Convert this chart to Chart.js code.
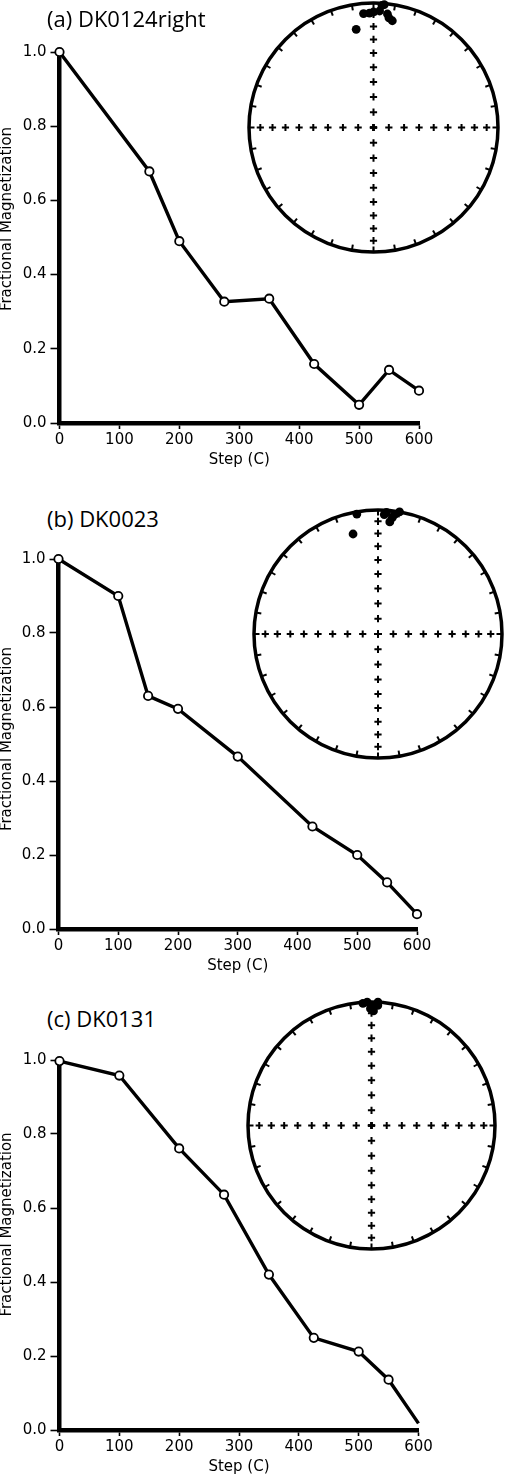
<!DOCTYPE html>
<html>
<head>
<meta charset="utf-8">
<script src="https://cdn.jsdelivr.net/npm/chart.js@4"></script>
<style>
  html, body { margin: 0; padding: 0; background: #fff; }
  #page { position: relative; width: 505px; height: 1474px; overflow: hidden; }
  canvas { position: absolute; }
  .ptitle { position: absolute; left: 47px; font: 22px "Open Sans", sans-serif; line-height: 1; color: #000; white-space: nowrap; }
</style>
</head>
<body>
<div id="page"></div>
<script>
// ===== DATA =====
const titles = ['(a) DK0124right', '(b) DK0023', '(c) DK0131'];

const stepsA = [0, 150, 200, 275, 350, 425, 500, 550, 600];
const magA   = [1.0, 0.678, 0.49, 0.327, 0.335, 0.159, 0.049, 0.143, 0.087];
const stepsB = [0, 100, 150, 200, 300, 425, 500, 550, 600];
const magB   = [1.0, 0.90, 0.63, 0.595, 0.466, 0.277, 0.20, 0.126, 0.04];
const stepsC = [0, 100, 200, 275, 350, 425, 500, 550, 600];
const magC   = [0.997, 0.958, 0.761, 0.636, 0.42, 0.249, 0.212, 0.136, 0.018];

// directions (declination / inclination, degrees) plotted on the equal-area nets
const decA = [355, 358, 0, 3, 4, 5, 7, 10, 8, 350];
const incA = [9, 9, 8, 7, 2, 1, 9, 14, 12, 21];
const decB = [350, 346, 6, 3, 8, 10, 4, 7];
const incB = [2, 18, 10, 4, 3, 0, 2, 6];
const decC = [358, 0, 3, 1, 359.5, 3, 356];
const incC = [0, 3, 0, 8, 6, 3, 1];

const xTicks = [0, 100, 200, 300, 400, 500, 600];
const yTicks = [0.0, 0.2, 0.4, 0.6, 0.8, 1.0];
const netIncGrid = [10, 20, 30, 40, 50, 60, 70, 80, 90];

// ===== LAYOUT (pixels) =====
const panels = [
  { steps: stepsA, mag: magA, dec: decA, inc: incA, lastMarker: true,
    left: 59.5, right: 419, top: 52, bottom: 423, titleTop: 7, yLabelMid: 219,
    net: { cx: 373, cy: 127, r: 124.5 } },
  { steps: stepsB, mag: magB, dec: decB, inc: incB, lastMarker: true,
    left: 58.5, right: 417, top: 559, bottom: 929, titleTop: 507, yLabelMid: 739,
    net: { cx: 377.5, cy: 633.5, r: 124 } },
  { steps: stepsC, mag: magC, dec: decC, inc: incC, lastMarker: false,
    left: 59.5, right: 418.5, top: 1059.5, bottom: 1429, titleTop: 1006.5, yLabelMid: 1224,
    net: { cx: 371, cy: 1125, r: 123.5 } }
];

const FONT = 'DejaVu Sans';
const page = document.getElementById('page');

// equal-area (Schmidt) projection, lower hemisphere
function project(dec, inc) {
  const r = Math.SQRT2 * Math.sin((90 - inc) / 2 * Math.PI / 180);
  const d = dec * Math.PI / 180;
  return { x: r * Math.sin(d), y: r * Math.cos(d) };
}

function makeCanvas(left, top, w, h) {
  const c = document.createElement('canvas');
  c.width = w; c.height = h;
  c.style.left = left + 'px'; c.style.top = top + 'px';
  c.style.width = w + 'px'; c.style.height = h + 'px';
  page.appendChild(c);
  return c;
}

// rotated y-axis label, placed where the original figure has it
const yLabel = {
  id: 'yLabel',
  afterDraw(chart, args, opts) {
    const { ctx } = chart;
    ctx.save();
    ctx.translate(opts.x, opts.y);
    ctx.rotate(-Math.PI / 2);
    ctx.textAlign = 'center';
    ctx.textBaseline = 'middle';
    ctx.fillStyle = '#000';
    ctx.font = `15px "${FONT}"`;
    ctx.fillText(opts.text, 0, 0);
    ctx.restore();
  }
};

// ===== DEMAGNETIZATION CURVES =====
function renderCurve(p, idx) {
  const padTop = 20, axisH = 49;
  const h = Math.round(p.bottom - p.top) + padTop + axisH;
  const cvTop = p.top - padTop;
  const cv = makeCanvas(0, cvTop, 505, h);

  const t = document.createElement('div');
  t.className = 'ptitle';
  t.style.top = p.titleTop + 'px';
  t.textContent = titles[idx];
  page.appendChild(t);

  const radii = p.steps.map((_, i) => (i === p.steps.length - 1 && !p.lastMarker) ? 0 : 4.2);

  new Chart(cv, {
    type: 'line',
    data: {
      datasets: [{
        data: p.steps.map((s, i) => ({ x: s, y: p.mag[i] })),
        borderColor: '#000',
        borderWidth: 3.4,
        pointRadius: radii,
        pointBackgroundColor: '#fff',
        pointBorderColor: '#000',
        pointBorderWidth: 1.8,
        tension: 0,
        clip: false
      }]
    },
    options: {
      responsive: false,
      animation: false,
      events: [],
      layout: { padding: { top: padTop, left: 0, bottom: 0, right: 505 - p.right } },
      plugins: {
        legend: { display: false },
        tooltip: { enabled: false },
        yLabel: { text: 'Fractional Magnetization', x: 7.5, y: p.yLabelMid - cvTop }
      },
      scales: {
        x: {
          type: 'linear', min: 0, max: 600,
          afterFit: s => { s.height = axisH; },
          afterBuildTicks: s => { s.ticks = xTicks.map(v => ({ value: v })); },
          ticks: { color: '#000', font: { family: FONT, size: 15 }, padding: 2, maxRotation: 0 },
          grid: { drawOnChartArea: false, drawTicks: true, tickLength: 6, tickColor: '#000', tickWidth: 1.6 },
          border: { display: true, color: '#000', width: 4.5 },
          title: { display: true, text: 'Step (C)', color: '#000', font: { family: FONT, size: 15 }, padding: { top: 0, bottom: 3 } }
        },
        y: {
          type: 'linear', min: 0, max: 1,
          afterFit: s => { s.width = p.left; },
          afterBuildTicks: s => { s.ticks = yTicks.map(v => ({ value: v })); },
          ticks: { color: '#000', font: { family: FONT, size: 15 }, padding: 4, callback: v => v.toFixed(1) },
          grid: { drawOnChartArea: false, drawTicks: true, tickLength: 9, tickColor: '#000', tickWidth: 1.6 },
          border: { display: true, color: '#000', width: 4.5 },
          title: { display: false }
        }
      }
    },
    plugins: [yLabel]
  });
}

// ===== STEREONETS =====
const netGrid = {
  id: 'netGrid',
  beforeDatasetsDraw(chart) {
    const { ctx, scales: { x, y } } = chart;
    const cx = x.getPixelForValue(0), cy = y.getPixelForValue(0);
    const R = x.getPixelForValue(1) - cx;
    ctx.save();
    ctx.strokeStyle = '#000';
    // outer circle
    ctx.lineWidth = 3.5;
    ctx.beginPath();
    ctx.arc(cx, cy, R, 0, Math.PI * 2);
    ctx.stroke();
    // 10-degree ticks round the rim
    ctx.lineWidth = 2;
    for (let a = 0; a < 360; a += 10) {
      const s = Math.sin(a * Math.PI / 180), c = Math.cos(a * Math.PI / 180);
      ctx.beginPath();
      ctx.moveTo(cx + s * R, cy - c * R);
      ctx.lineTo(cx + s * (R - 5.5), cy - c * (R - 5.5));
      ctx.stroke();
    }
    // inclination crosses along N-S and E-W
    const arm = 3.6;
    const cross = (px, py) => {
      ctx.beginPath();
      ctx.moveTo(px - arm, py); ctx.lineTo(px + arm, py);
      ctx.moveTo(px, py - arm); ctx.lineTo(px, py + arm);
      ctx.stroke();
    };
    [0, 90, 180, 270].forEach(az => {
      netIncGrid.forEach(inc => {
        const q = project(az, inc);
        cross(x.getPixelForValue(q.x), y.getPixelForValue(q.y));
      });
    });
    ctx.restore();
  }
};

function renderNet(p) {
  const pad = 5;
  const n = p.net;
  const size = Math.round(2 * n.r + 2 * pad);
  const cv = makeCanvas(n.cx - size / 2, n.cy - size / 2, size, size);
  new Chart(cv, {
    type: 'scatter',
    data: {
      datasets: [{
        data: p.dec.map((d, i) => project(d, p.inc[i])),
        pointRadius: 4.4,
        pointBackgroundColor: '#000',
        pointBorderColor: '#000',
        pointBorderWidth: 0,
        clip: false
      }]
    },
    options: {
      responsive: false,
      animation: false,
      events: [],
      layout: { padding: pad },
      plugins: { legend: { display: false }, tooltip: { enabled: false } },
      scales: {
        x: { type: 'linear', min: -1, max: 1, display: false },
        y: { type: 'linear', min: -1, max: 1, display: false }
      }
    },
    plugins: [netGrid]
  });
}

panels.forEach((p, i) => { renderCurve(p, i); renderNet(p); });
</script>
</body>
</html>
